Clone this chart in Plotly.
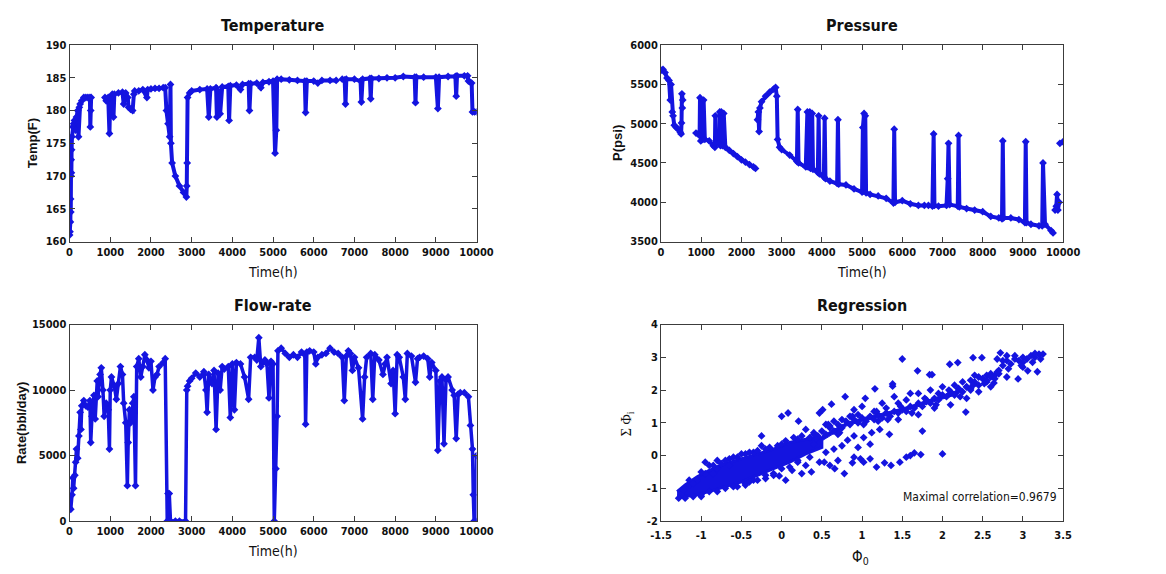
import plotly.graph_objects as go

# ---------------- data ----------------
temp_t = [0, 10, 20, 25, 30, 35, 40, 45, 50, 60, 80, 100, 120, 150, 170, 200, 220, 240, 260, 300, 350, 400, 450, 500, 510, 520, 530, None,
          870, 900, 950, 980, 1000, 1050, 1080, 1100, 1200, 1300, 1330, 1380, 1430, 1450, 1500, 1550, 1580, 1600, 1700, 1800, 1900, 1920,
          2000, 2100, 2200, 2300, 2350, 2380, 2420, 2460, 2480, 2490, 2520, 2600, 2700, 2800, 2870, 2880, 2890, 2900, 2950, 3000, 3200,
          3380, 3420, 3460, 3600, 3620, 3650, 3700, 3750, 3900, 3920, 3950, 4100, 4200, 4250, 4400, 4420, 4450, 4600, 4700, 4750, 4900,
          5000, 5050, 5080, 5100, 5200, 5400, 5600, 5780, 5800, 5830, 6000, 6100, 6200, 6400, 6550, None,
          6700, 6760, 6780, 6800, 7000, 7150, 7170, 7200, 7380, 7400, 7420, 7600, 7800, 8000, 8200, 8480, 8500, 8520, 8700, 9000, 9050,
          9080, 9300, 9480, 9500, 9520, 9700, 9780, 9800, 9850, 9880, 9900, 9950, 10000]
temp_v = [161, 161.5, 163, 166.5, 164.5, 170, 172.5, 170.5, 174, 176, 177.5, 178, 178.5, 177, 179, 180, 176, 180.5, 181, 181.5, 182, 182, 182, 182, 177.5, 180, 182, None,
          182, 181.5, 182, 176.5, 182, 182.5, 179, 182.5, 182.7, 182.8, 181, 182.7, 182, 180.5, 180.2, 180, 182.5, 183, 183, 183.2, 182, 183.2,
          183.3, 183.4, 183.4, 183.5, 183.5, 180, 178, 176, 184, 175, 172, 170, 168.5, 167.5, 166.8, 168.5, 172, 182, 182.7, 183, 183.2,
          183.3, 179, 183.3, 183.5, 179, 183, 179.5, 183.6, 183.7, 178.5, 183.8, 183.9, 183.2, 184, 184.1, 180, 184.1, 184.2, 183.5, 184.3, 184.4,
          184.5, 173.5, 177, 184.8, 184.8, 184.7, 184.6, 184.5, 179.7, 184.5, 184.5, 184.2, 184.6, 184.6, 184.6, None,
          184.8, 184.7, 181, 184.8, 184.8, 184.5, 181.3, 184.8, 184.9, 181.8, 184.9, 184.9, 185, 185, 185.2, 185.1, 181.2, 185.1, 185.1, 185.1, 180.3,
          185.1, 185.2, 185.2, 182.2, 185.3, 185.3, 185.3, 184.5, 184.3, 184.2, 179.8, 179.8, 179.8]

pres_t = [0, 50, 100, 150, 200, 230, 250, 280, 300, 330, 380, 430, 480, 500, 510, 520, 530, 540, None,
          870, 920, 960, 970, 990, 1040, 1060, 1090, 1200, 1300, 1340, 1350, 1360, 1450, 1460, 1480, 1500, 1530, 1560, 1600,
          1700, 1800, 1900, 2000, 2100, 2200, 2300, 2350, None,
          2400, 2420, 2440, 2460, 2500, 2600, 2700, 2800, 2850, 2880, 2900, 2950, 3000, 3200, 3380, 3400, 3420, 3600, 3640, 3660,
          3700, 3720, 3760, 3780, 3900, 3920, 3940, 4050, 4070, 4090, 4200, 4380, 4400, 4420, 4600, 4800, 5000, 5020, 5050, 5080,
          5100, 5200, 5400, 5600, 5780, 5800, 5820, 6000, 6200, 6400, 6550, None,
          6650, 6750, 6780, 6800, 6900, 7100, 7130, 7150, 7180, 7380, 7400, 7420, 7600, 7800, 8000, 8200, 8400, 8480, 8500, 8520,
          8700, 8900, 9050, 9070, 9090, 9200, 9400, 9480, 9500, 9550, 9700, 9750, None,
          9800, 9830, 9850, 9870, 9900, None, 9920, 10000]
pres_v = [5680, 5690, 5650, 5580, 5550, 5300, 5500, 5150, 5100, 4980, 4950, 4930, 4890, 4870, 5010, 5380, 5200, 5300, None,
          4880, 4870, 4850, 5330, 4780, 4800, 5300, 4800, 4780, 4720, 4700, 5100, 4750, 4750, 5150, 4720, 5150, 4720, 5130, 4700,
          4660, 4620, 4580, 4540, 4510, 4480, 4450, 4430, None,
          5050, 5150, 4900, 5200, 5280, 5350, 5400, 5440, 5460, 5350, 4800, 4700, 4670, 4600, 4520, 5180, 4500, 4450, 5150, 4450,
          5150, 4430, 5130, 4420, 4380, 5100, 4360, 4320, 5070, 4300, 4270, 4240, 5050, 4230, 4220, 4170, 4130, 4950, 5130, 5100,
          4120, 4100, 4080, 4050, 3990, 4930, 4000, 4020, 3980, 3960, 3960, None,
          3960, 3950, 4870, 3960, 3950, 3960, 4300, 4750, 3970, 3950, 4850, 3940, 3920, 3900, 3880, 3820, 3800, 3790, 4780, 3800,
          3800, 3780, 3740, 4770, 3740, 3720, 3700, 3700, 4500, 3720, 3640, 3610, None,
          3900, 3950, 4100, 3900, 4000, None, 4750, 4770]

flow_t = [0, 30, 60, 80, 100, 130, 150, 170, 200, 230, 260, 280, 300, 350, 400, 450, 500, 520, 550, 600, 630, 680, 700, 750, 780,
          820, 850, 900, 950, 980, 1000, 1030, 1100, 1150, 1200, 1250, 1300, 1330, 1380, 1420, 1440, 1470, 1500, 1550, 1580, 1620,
          1650, 1700, 1750, 1800, 1850, 1900, 1950, 2000, 2050, 2100, 2150, 2200, 2300, 2350, 2400, 2420, 2450, 2480, 2600, 2700,
          2850, 2880, 2900, 2950, 3000, 3100, 3200, 3300, 3350, 3380, 3420, 3500, 3550, 3600, 3650, 3700, 3750, 3800, 3900, 3950,
          4000, 4050, 4100, 4200, 4300, 4400, 4450, 4550, 4600, 4650, 4700, 4800, 4850, 4900, 4950, 5000, 5030, 5070, 5100, 5120,
          5200, 5300, 5400, 5500, 5600, 5700, 5780, 5800, 5830, 5900, 6000, 6050, 6100, 6200, 6300, 6400, 6500, 6600, 6700, 6750,
          6800, 6850, 6900, 6950, 7000, 7100, 7200, 7250, 7300, 7400, 7450, 7500, 7600, 7700, 7750, 7800, 7900, 7950, 8000, 8050,
          8100, 8200, 8250, 8300, 8400, 8500, 8550, 8600, 8700, 8800, 8850, 8900, 9000, 9050, 9100, 9150, 9200, 9250, 9300, 9400,
          9450, 9500, 9550, 9600, 9700, 9800, 9850, 9900, 9920, 9940, 9980, 10000]
flow_v = [1000, 900, 2000, 3300, 2500, 3500, 4500, 5500, 4800, 6500, 8300, 7000, 8800, 9200, 8800, 8700, 9200, 6000, 8000, 9600, 7800, 10700, 9500, 11200, 11700,
          10000, 8000, 9000, 8500, 5500, 10000, 11000, 10300, 9300, 10500, 11800, 11200, 9000, 7500, 2700, 6000, 8500, 7500, 9000, 9500, 2700,
          11800, 12400, 11000, 11800, 12700, 12300, 11700, 12200, 10000, 11000, 11200, 11800, 12100, 12400, 0, 2100, 2100, 0, 0, 0,
          0, 10000, 10300, 10700, 10900, 11300, 11000, 11400, 10000, 8300, 11200, 10500, 11500, 7000, 11300, 10000, 11800, 11600, 11800, 7900,
          12000, 8500, 12100, 12000, 11000, 9300, 12500, 12500, 12300, 14000, 11800, 12300, 12000, 9400, 12200, 12000, 0, 4000, 8000, 13000,
          13200, 12800, 12500, 12700, 12500, 12900, 12700, 7400, 12900, 13000, 12900, 12000, 12500, 12700, 12800, 13200, 12900, 12800, 12500, 9200,
          12600, 13000, 12800, 11500, 12500, 11700, 7800, 11000, 12500, 12800, 9300, 12700, 12300, 11200, 12000, 12500, 10500, 11500, 8200, 12700,
          12500, 11000, 9300, 12800, 12600, 10600, 12400, 12500, 12600, 12400, 11000, 12100, 11500, 5400, 10700, 11000, 5900, 10800, 11000, 10000,
          9600, 6300, 9700, 9800, 9800, 9500, 7300, 5500, 2000, 0, 0, 5000]

# Regression: dense core outline, upper band outline and scattered points
core_x = [-1.3, -1.2, -1.05, -0.9, -0.7, -0.5, -0.3, -0.1, 0.1, 0.3, 0.5, 0.5, 0.3, 0.1, -0.1, -0.3, -0.5, -0.7, -0.9, -1.1, -1.3]
core_y = [-1.1, -0.9, -0.65, -0.45, -0.25, -0.1, 0.05, 0.2, 0.4, 0.5, 0.55, 0.25, 0.05, -0.2, -0.4, -0.6, -0.8, -0.95, -1.1, -1.22, -1.27]
band_x = [0.5, 0.8, 1.0, 1.3, 1.6, 1.9, 2.2, 2.2, 1.9, 1.6, 1.3, 1.0, 0.8, 0.5]
band_y = [0.6, 1.0, 1.15, 1.32, 1.52, 1.75, 2.0, 1.88, 1.65, 1.42, 1.22, 1.05, 0.9, 0.45]
reg_x = [-1.25, -1.22, -1.15, -1.05, -0.95, -0.9, -0.8, -0.75, -0.65, -0.55, -0.45, -0.35, -0.25, -0.3, -0.15, -0.05, 0.05, 0.0, 0.08,
         -1.1, -1.0, -0.9, -0.7, -0.55, -0.45, -0.35, -0.2, -0.1, 0.05, -0.03, 0.13, 0.25, 0.37, 0.47, 0.53, 0.66, 0.7, 0.78, 0.88,
         0.9, 0.98, 1.02, 1.18, 1.28, 1.36, 1.47, 1.55, 1.65, 1.73, 2.0, 1.6, 1.1, 0.6, 0.3, 0.2,
         0.55, 0.65, 0.75, 0.82, 0.9, 1.02, 1.12, 1.22, 1.34, 1.75, 1.1, 0.95, 0.7, 0.6, 0.47, 0.51, 0.21, 0.3, 0.62, 0.79, 1.04,
         1.16, 1.38, 1.38, 1.5, 1.69, 1.84, 1.87, 2.09, 2.19, 2.38, 2.49, 2.72, 2.29, 1.4, 1.6, 1.25, 0.9, 1.0, 1.2, 1.45, 1.7,
         1.9, 2.1, 2.3, 2.45, 2.6, 2.64, 2.8, 2.94, 3.06, 3.18, 3.0,
         2.2, 2.3, 2.35, 2.4, 2.45, 2.5, 2.55, 2.6, 2.65, 2.7, 2.75, 2.8, 2.85, 2.9, 2.95, 3.0, 3.05, 3.1, 3.15, 3.2, 3.25, 3.22,
         3.12, 3.0, 2.9, 2.8, 2.75, 2.68, 3.15, 2.4, 2.55, 2.35, 2.25, 2.15, 2.1, 2.0, 1.95, 1.85, 1.8, 1.7, 1.55, 1.45, 1.3,
         1.15, 0.95, 0.85, 0.75, 0.65, 0.55,
         0.35, 0.4, 0.45, 0.5, 0.55, 0.6, 0.65, 0.7, 0.75, 0.8, 0.85, 0.9, 0.95, 1.0, 1.05, 1.1, 1.15, 1.2, 1.25, 1.3, 1.35, 1.4,
         1.45, 1.5, 1.55, 1.6, 1.65, 1.7, 1.75, 1.8, 1.85, 1.9, 1.95, 2.0, 2.05, 2.1, 2.15, 2.2, 2.25, 2.3, 2.35, 2.4, 2.45, 2.5,
         2.55, 2.6, 2.65, 2.7, 0.42, 0.58, 0.72, 0.88, 1.02, 1.18, 1.32, 1.48, 1.62, 1.78, 1.92, 2.08, 2.22, 2.38, 2.52, 2.68,
         2.82, 2.98,
         -1.15, -1.0, -0.85, -0.7, -0.6, -0.4, -0.2, 0.0, 0.2, 0.25, 0.4, -1.0, -0.8, -0.6, -0.4, -0.2, 0.0, 0.2, 0.35, -1.28,
         -1.2, -0.95, -0.8, -0.5, -0.45, -0.3, -0.1, 0.1, -0.65, -0.85, -1.1, -0.25, 0.15, 0.4]
reg_y = [-1.2, -1.05, -0.9, -0.75, -0.55, -0.3, -0.4, -0.25, -0.1, -0.05, 0.05, 0.1, 0.6, 0.15, 0.25, 0.3, 0.45, 1.2, 1.3,
         -1.25, -1.2, -1.1, -1.0, -0.95, -0.85, -0.75, -0.7, -0.6, -0.75, -0.62, -0.45, -0.55, -0.5, -0.2, -0.2, -0.4, -0.15, -0.55, -0.22,
         -0.05, -0.1, -0.2, -0.35, -0.22, -0.3, -0.2, -0.05, 0.08, 0.03, 0.05, 0.0, -0.1, -0.3, -0.3, -0.2,
         0.1, 0.2, 0.3, 0.47, 0.6, 0.55, 0.7, 0.8, 0.65, 0.75, 0.35, 0.25, 0.65, 0.9, 1.3, 1.4, 1.05, 0.8, 1.57, 1.8, 1.75,
         2.04, 2.19, 2.12, 2.95, 2.59, 2.47, 2.47, 2.79, 2.84, 2.99, 2.99, 3.14, 1.33, 1.8, 1.9, 1.6, 1.4, 1.5, 1.05, 1.1, 1.25,
         1.45, 1.55, 1.75, 1.95, 2.1, 2.22, 2.4, 2.34, 2.59, 2.56, 2.7,
         2.05, 2.1, 2.3, 2.2, 2.4, 2.35, 2.45, 2.5, 2.45, 2.6, 2.75, 2.9, 2.8, 2.95, 2.9, 3.0, 2.95, 3.05, 3.0, 3.1, 3.1, 2.95,
         2.85, 2.85, 3.05, 3.05, 2.9, 2.95, 3.12, 2.45, 2.25, 2.0, 2.25, 2.15, 1.95, 2.1, 1.9, 2.0, 1.7, 1.9, 1.7, 1.6, 1.45,
         1.35, 1.25, 1.2, 1.1, 1.05, 0.95,
         0.55, 0.7, 0.6, 0.75, 0.65, 0.85, 0.75, 0.95, 0.85, 1.05, 0.95, 1.1, 1.0, 1.15, 1.05, 1.2, 1.1, 1.25, 1.15, 1.3, 1.2, 1.35,
         1.3, 1.4, 1.35, 1.5, 1.45, 1.6, 1.5, 1.65, 1.6, 1.75, 1.7, 1.85, 1.8, 1.9, 1.85, 2.0, 1.95, 2.1, 2.05, 2.25, 2.15, 2.35,
         2.3, 2.4, 2.35, 2.5, 0.5, 0.95, 0.7, 1.2, 0.95, 1.35, 1.1, 1.5, 1.3, 1.75, 1.55, 2.0, 1.8, 2.15, 2.2, 2.55,
         2.65, 2.75,
         -0.75, -0.5, -0.3, -0.15, -0.05, 0.1, 0.2, 0.35, 0.5, 0.6, 0.65, -1.25, -1.1, -0.95, -0.8, -0.6, -0.4, -0.15, -0.05, -1.3,
         -1.3, -0.2, -0.15, 0.05, -0.9, -0.75, -0.55, -0.35, -0.3, -0.55, -0.85, 0.3, 0.55, 0.35]

titles = ["Temperature", "Pressure", "Flow-rate", "Regression"]
corr_text = "Maximal correlation=0.9679"

# ---------------- layout helpers ----------------
W, H = 1166, 574
BLUE = "#1414e0"
FONT = "Liberation Sans Narrow, DejaVu Sans Condensed, Arial Narrow, Liberation Sans, Arial, sans-serif"

def xd(a, b):
    return [a / W, b / W]

def yd(top, bottom):
    return [1 - bottom / H, 1 - top / H]

panels = {
    1: dict(x=(60, 477), y=(40, 241)),
    2: dict(x=(666, 1078), y=(40, 241)),
    3: dict(x=(60, 477), y=(326, 527)),
    4: dict(x=(666, 1078), y=(326, 527)),
}

fig = go.Figure()

mk = dict(symbol="diamond", size=6, color=BLUE)
ln = dict(color=BLUE, width=4)

fig.add_trace(go.Scatter(x=temp_t, y=temp_v, mode="lines+markers", marker=mk, line=ln,
                         xaxis="x", yaxis="y", connectgaps=False, showlegend=False))
fig.add_trace(go.Scatter(x=pres_t, y=pres_v, mode="lines+markers", marker=mk, line=ln,
                         xaxis="x2", yaxis="y2", connectgaps=False, showlegend=False))
fig.add_trace(go.Scatter(x=flow_t, y=flow_v, mode="lines+markers", marker=mk, line=dict(color=BLUE, width=3.5),
                         xaxis="x3", yaxis="y3", showlegend=False))
fig.add_trace(go.Scatter(x=core_x, y=core_y, mode="lines", fill="toself", fillcolor=BLUE,
                         line=dict(color=BLUE, width=3), xaxis="x4", yaxis="y4", showlegend=False))
fig.add_trace(go.Scatter(x=band_x, y=band_y, mode="lines", fill="toself", fillcolor=BLUE,
                         line=dict(color=BLUE, width=1), xaxis="x4", yaxis="y4", showlegend=False))
fig.add_trace(go.Scatter(x=reg_x, y=reg_y, mode="markers", marker=dict(symbol="diamond", size=6, color=BLUE),
                         xaxis="x4", yaxis="y4", showlegend=False))

axcommon = dict(showline=True, mirror="ticks", linecolor="#3c3c3c", linewidth=1, ticks="inside",
                ticklen=5, tickcolor="#3c3c3c", showgrid=False, zeroline=False,
                tickfont=dict(family=FONT, size=11, color="#111111", weight="bold"))

tvals = list(range(0, 10001, 1000))
ttext = [str(v) for v in tvals]
layout = dict(width=W, height=H, margin=dict(l=0, r=0, t=0, b=0),
              paper_bgcolor="white", plot_bgcolor="white", showlegend=False)

layout["xaxis"] = dict(axcommon, domain=xd(*panels[1]["x"]), range=[0, 10000], tickvals=tvals, ticktext=ttext, anchor="y")
layout["yaxis"] = dict(axcommon, domain=yd(*panels[1]["y"]), range=[160, 190], tickvals=list(range(160, 191, 5)), anchor="x")
layout["xaxis2"] = dict(axcommon, domain=xd(*panels[2]["x"]), range=[0, 10000], tickvals=tvals, ticktext=ttext, anchor="y2")
layout["yaxis2"] = dict(axcommon, domain=yd(*panels[2]["y"]), range=[3500, 6000],
                        tickvals=list(range(3500, 6001, 500)), ticktext=[str(v) for v in range(3500, 6001, 500)], anchor="x2")
layout["xaxis3"] = dict(axcommon, domain=xd(*panels[3]["x"]), range=[0, 10000], tickvals=tvals, ticktext=ttext, anchor="y3")
layout["yaxis3"] = dict(axcommon, domain=yd(*panels[3]["y"]), range=[0, 15000], tickvals=[0, 5000, 10000, 15000],
                        ticktext=["0", "5000", "10000", "15000"], anchor="x3")
layout["xaxis4"] = dict(axcommon, domain=xd(*panels[4]["x"]), range=[-1.5, 3.5],
                        tickvals=[-1.5, -1, -0.5, 0, 0.5, 1, 1.5, 2, 2.5, 3, 3.5],
                        ticktext=["-1.5", "-1", "-0.5", "0", "0.5", "1", "1.5", "2", "2.5", "3", "3.5"],
                        ticklabelstandoff=4, anchor="y4")
layout["yaxis4"] = dict(axcommon, domain=yd(*panels[4]["y"]), range=[-2, 4], tickvals=list(range(-2, 5)),
                        ticktext=[str(v) for v in range(-2, 5)], anchor="x4")

fig.update_layout(**layout)

def ann(text, px, py, size=13, angle=0, bold=False, xanchor="center", yanchor="middle", family=FONT):
    if bold:
        text = "<b>" + text + "</b>"
    fig.add_annotation(text=text, x=px / W, y=1 - py / H, xref="paper", yref="paper",
                       showarrow=False, textangle=angle, xanchor=xanchor, yanchor=yanchor,
                       font=dict(family=family, size=size, color="#111111"))

# titles
ann(titles[0], 268, 20, size=16, bold=True)
ann(titles[1], 872, 20, size=16, bold=True)
ann(titles[2], 268, 306, size=16, bold=True)
ann(titles[3], 872, 306, size=16, bold=True)

# x-axis titles
ann("Time(h)", 268, 272, size=14)
ann("Time(h)", 872, 272, size=14)
ann("Time(h)", 268, 558, size=14)
ann("Φ<sub>0</sub>", 870, 564, size=15)

# y-axis titles
ann("Temp(F)", 22, 140, size=13, angle=-90, bold=True, family="Liberation Sans, Arial, sans-serif")
ann("P(psi)", 622, 140, size=13, angle=-90, bold=True, family="Liberation Sans, Arial, sans-serif")
ann("Rate(bbl/day)", 11, 427, size=13, angle=-90, bold=True, family="Liberation Sans, Arial, sans-serif")
ann("Σ Φ<sub>i</sub>", 632, 427, size=14, angle=-90, family="Liberation Serif, Times New Roman, serif")

# correlation text
fig.add_annotation(text=corr_text, x=3.45, y=-1.28, xref="x4", yref="y4", showarrow=False,
                   xanchor="right", yanchor="middle", font=dict(family=FONT, size=12, color="#111111"))

fig.write_html("out.html")
